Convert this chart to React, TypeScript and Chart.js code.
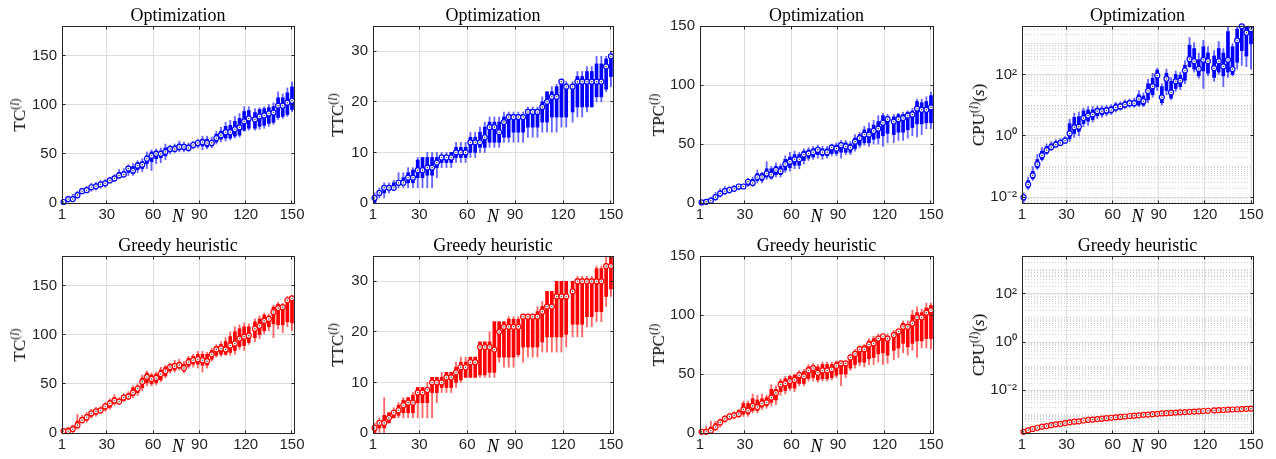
import React, { useEffect, useRef } from "react";
import { Chart, registerables } from "chart.js";

Chart.register(...registerables);

// ---------------- data ----------------
const N_POS = [2, 5, 8, 11, 14, 17, 20, 23, 26, 29, 32, 35, 38, 41, 44, 47, 50, 53, 56, 59, 62, 65, 68, 71, 74, 77, 80, 83, 86, 89, 92, 95, 98, 101, 104, 107, 110, 113, 116, 119, 122, 126, 129, 132, 135, 138, 141, 144, 147, 150];
const X_TICKS = [1, 30, 60, 90, 120, 150];
const TC_TICKS = [0, 50, 100, 150];
const TTC_TICKS = [0, 10, 20, 30];
const TPC_TICKS = [0, 50, 100, 150];
const CPU_TICKS = [0.01, 1, 100];
const CPU_TICK_LABELS = ["10⁻²", "10⁰", "10²"];

// Optimization: TC
const TC_OPT_MED = [1, 4, 4, 8, 12, 13, 16, 17, 19, 20, 23, 25, 28, 29, 35, 33, 38, 39, 45, 48, 50, 50, 52, 55, 55, 57, 57, 56, 59, 61, 62, 61, 61, 66, 69, 72, 72, 75, 77, 83, 86, 85, 88, 89, 91, 92, 99, 99, 102, 104];
const TC_OPT_Q1 = [0, 2, 3, 6, 11, 12, 14, 15, 17, 18, 22, 23, 26, 27, 31, 30, 34, 35, 40, 42, 45, 46, 48, 52, 53, 54, 54, 54, 57, 58, 58, 57, 58, 62, 65, 66, 66, 68, 69, 74, 76, 76, 78, 79, 81, 82, 87, 88, 90, 95];
const TC_OPT_Q3 = [2, 5, 6, 10, 13, 15, 18, 19, 21, 22, 24, 27, 31, 32, 37, 37, 41, 42, 48, 52, 53, 53, 56, 57, 58, 60, 59, 59, 61, 63, 65, 65, 64, 70, 73, 78, 79, 83, 86, 93, 94, 92, 95, 96, 97, 98, 107, 107, 112, 118];
const TC_OPT_LO = [0, 1, 2, 5, 10, 11, 12, 13, 15, 16, 21, 22, 25, 26, 28, 28, 31, 32, 35, 33, 40, 41, 44, 50, 51, 52, 52, 52, 55, 56, 54, 55, 56, 60, 62, 63, 64, 66, 67, 73, 74, 74, 75, 76, 78, 80, 85, 86, 88, 93];
const TC_OPT_HI = [3, 7, 9, 12, 15, 17, 20, 21, 23, 24, 26, 29, 34, 35, 39, 40, 43, 45, 52, 54, 55, 56, 60, 59, 60, 63, 62, 61, 63, 65, 68, 68, 67, 73, 77, 82, 84, 88, 91, 98, 98, 96, 97, 98, 100, 102, 113, 111, 117, 123];

// Optimization: TTC
const TTC_OPT_MED = [1, 2, 3, 3, 3, 4, 4, 5, 5, 6.5, 6.5, 7, 7, 8, 9, 9, 9, 10, 10, 10, 12, 12, 12, 13, 15, 15, 14, 16, 17, 17, 17, 17, 18, 18, 18, 19, 20, 21, 21, 24, 23, 23, 24, 24, 24, 24, 24, 24, 27, 29];
const TTC_OPT_Q1 = [0, 1.5, 2, 3, 3, 3.5, 4, 4, 4, 5, 5, 5.5, 5.5, 7, 8, 8, 8, 9, 9, 9, 10, 10, 11, 11, 12, 12, 12, 13, 13, 14, 14, 14, 15, 15, 15, 16, 16, 17, 17, 17, 17, 18, 19, 19, 19, 19, 21, 21, 22.5, 25];
const TTC_OPT_Q3 = [1, 2.5, 3.5, 3.5, 4, 4.5, 5, 6, 6.5, 8.5, 9, 9, 9, 9, 9.5, 9.5, 10, 11, 11, 11, 13, 13, 14, 15, 16, 16, 16, 17, 17.5, 17.5, 17.5, 17.5, 18.5, 18.5, 18.5, 20, 22, 22, 23, 24, 23.5, 23.5, 25, 25, 26, 26, 27.5, 27.5, 28.5, 29];
const TTC_OPT_LO = [0, 1, 1, 2, 3, 3, 3, 3, 3, 3, 3, 3, 3, 5, 7, 7, 7, 8, 8, 8, 9, 9, 10, 10, 11, 11, 11, 12, 12, 12, 12, 12, 13, 13, 13, 14, 14, 14, 14, 15, 15, 16, 17, 17, 18, 19, 20, 20, 22, 23];
const TTC_OPT_HI = [2, 3, 4, 4, 4.5, 6, 6, 7, 7, 9, 9, 10, 10, 10, 10, 10, 10, 12, 12, 12, 14, 14, 15, 16, 17, 17, 17, 18, 18, 18, 18, 18, 19, 19, 19, 21, 22, 23, 23.5, 24.5, 24, 24, 26, 26, 27, 27, 29, 29, 29, 30];

// Optimization: TPC
const TPC_OPT_MED = [0.5, 1, 2, 5, 8, 10, 11, 12, 14, 14, 18, 17, 22, 22, 25, 24, 28, 27, 33, 35, 37, 37, 41, 42, 43, 45, 43, 43, 47, 46, 49, 48, 47, 52, 55, 58, 58, 61, 63, 68, 71, 69, 71, 72, 74, 75, 80, 79, 79, 81];
const TPC_OPT_Q1 = [0, 0.5, 1, 3, 6, 8, 10, 11, 12, 13, 15, 15, 19, 19, 22, 21, 24, 24, 28, 30, 32, 32, 36, 38, 39, 41, 40, 40, 42, 42, 43, 43, 43, 46, 49, 51, 51, 54, 55, 57, 59, 58, 60, 60, 62, 64, 67, 67, 68, 68];
const TPC_OPT_Q3 = [1, 2, 3, 7, 10, 12, 13, 14, 15, 15, 20, 20, 25, 25, 29, 29, 31, 31, 37, 39, 41, 41, 44, 45, 46, 47, 46, 46, 49, 49, 51, 51, 50, 55, 58, 62, 63, 66, 69, 74, 73, 73, 75, 75, 77, 78, 86, 85, 86, 91];
const TPC_OPT_LO = [0, 0, 0, 2, 5, 7, 8, 10, 11, 12, 14, 14, 17, 17, 20, 20, 22, 22, 26, 27, 29, 29, 33, 36, 37, 38, 37, 38, 40, 40, 38, 41, 41, 44, 47, 49, 48, 50, 50, 48, 51, 51, 53, 53, 55, 57, 56, 58, 63, 63];
const TPC_OPT_HI = [1.5, 3, 5, 9, 12, 14, 14, 15, 16, 16, 21, 22, 28, 26, 35, 31, 34, 33, 40, 43, 44, 43, 46, 47, 48, 49, 48, 48, 50, 51, 53, 53, 52, 58, 60, 65, 68, 70, 74, 76, 75, 75, 76, 77, 78, 80, 88, 88, 90, 94];

// Optimization: CPU (s)
const CPU_OPT_MED = [0.01, 0.026, 0.052, 0.12, 0.23, 0.34, 0.43, 0.52, 0.59, 0.7, 1.2, 1.9, 2.0, 3.8, 4.6, 5.0, 6.4, 6.4, 6.7, 7.0, 8.4, 9.1, 10.5, 11.6, 11.6, 16, 13.5, 29, 41, 93, 18, 72, 26, 60, 63, 135, 316, 270, 152, 300, 270, 160, 270, 183, 300, 150, 1290, 3700, 2290, 3000];
const CPU_OPT_Q1 = [0.008, 0.02, 0.04, 0.09, 0.17, 0.27, 0.36, 0.45, 0.52, 0.62, 0.8, 1.2, 1.4, 2.5, 3.0, 3.4, 4.5, 4.8, 5.2, 5.6, 6.8, 7.5, 8.5, 9.5, 9.5, 10, 10, 15, 22, 40, 12, 30, 17, 35, 40, 65, 180, 150, 90, 130, 110, 80, 120, 90, 120, 100, 250, 600, 400, 1000];
const CPU_OPT_Q3 = [0.012, 0.035, 0.07, 0.17, 0.32, 0.45, 0.55, 0.65, 0.72, 0.85, 2.5, 4.0, 4.2, 6.5, 7.0, 7.0, 8.0, 8.0, 8.5, 9.0, 11, 11, 13, 14, 14, 22, 20, 50, 75, 140, 40, 110, 60, 100, 95, 200, 900, 700, 300, 800, 500, 400, 700, 500, 2500, 800, 3000, 3700, 3500, 3700];
const CPU_OPT_LO = [0.006, 0.018, 0.035, 0.08, 0.15, 0.24, 0.33, 0.42, 0.5, 0.58, 0.65, 0.9, 1.0, 2.0, 2.2, 2.8, 3.6, 4.0, 4.5, 5.0, 6.0, 6.8, 7.8, 8.5, 8.5, 9, 9, 12, 18, 30, 10, 22, 15, 28, 32, 50, 170, 120, 75, 35, 90, 60, 100, 40, 80, 90, 150, 200, 180, 150];
const CPU_OPT_HI = [0.014, 0.045, 0.1, 0.25, 0.42, 0.55, 0.65, 0.75, 0.82, 0.95, 3.5, 5.5, 6.0, 8.0, 9.0, 9.0, 9.5, 9.5, 10, 10.5, 12.5, 13, 15, 16, 17, 30, 25, 70, 110, 160, 50, 150, 80, 130, 120, 280, 1600, 1100, 500, 1300, 800, 600, 1200, 700, 3700, 1000, 3700, 3700, 3700, 3700];

// Greedy heuristic: TC
const TC_GRD_MED = [2, 2, 4, 8, 13, 16, 20, 22, 23, 27, 30, 33, 32, 36, 37, 41, 45, 52, 57, 55, 56, 60, 63, 67, 68, 69, 66, 72, 74, 75, 74, 73, 80, 85, 86, 85, 89, 91, 96, 98, 99, 106, 109, 114, 116, 123, 127, 128, 135, 137];
const TC_GRD_Q1 = [0, 0, 2, 6, 11, 13, 17, 19, 21, 24, 26, 30, 30, 33, 35, 38, 41, 46, 51, 50, 51, 54, 58, 63, 64, 66, 63, 68, 70, 70, 69, 69, 75, 79, 80, 80, 82, 84, 88, 89, 92, 97, 100, 104, 108, 111, 110, 110, 113, 112];
const TC_GRD_Q3 = [3, 5, 7, 12, 16, 19, 22, 24, 25, 29, 33, 36, 34, 38, 40, 46, 48, 56, 61, 59, 60, 64, 67, 70, 71, 72, 70, 76, 78, 80, 80, 80, 84, 88, 90, 93, 98, 103, 106, 108, 108, 113, 116, 120, 119, 128, 131, 130, 137, 138];
const TC_GRD_LO = [0, 0, 0, 4, 10, 11, 15, 17, 20, 22, 24, 28, 29, 32, 34, 36, 38, 43, 48, 48, 49, 52, 56, 61, 62, 64, 61, 66, 67, 66, 62, 66, 73, 77, 78, 79, 79, 80, 85, 84, 90, 93, 96, 101, 104, 97, 106, 102, 108, 104];
const TC_GRD_HI = [4, 6, 8, 19, 18, 21, 24, 26, 27, 31, 35, 39, 36, 40, 42, 48, 50, 59, 63, 61, 62, 67, 69, 71, 74, 75, 73, 78, 80, 83, 83, 82, 86, 90, 93, 97, 103, 108, 110, 112, 111, 116, 119, 122, 121, 130, 133, 132, 139, 140];

// Greedy heuristic: TTC
const TTC_GRD_MED = [1, 2, 2, 3, 4, 4.5, 5.5, 6, 6, 8, 8, 8.5, 10, 10, 10, 11, 11, 12, 13, 13, 14, 14, 17, 17, 17, 16.5, 20, 21, 21, 21, 21, 23, 23, 23, 23, 24, 25, 25, 27, 27, 27, 28, 30, 30, 30, 30, 30, 30, 33, 33];
const TTC_GRD_Q1 = [0, 1, 1, 2, 3, 3.5, 4, 4, 4, 6, 6, 6, 8, 8, 9, 9, 9, 10, 10.5, 11, 11, 11, 11.5, 11.5, 12, 12, 15, 15, 15, 15, 15.5, 17, 17, 17, 17, 18, 19, 19, 19, 19, 19.5, 21.5, 21.5, 21.5, 23, 23, 24, 24, 27, 28.5];
const TTC_GRD_Q3 = [1.5, 2.5, 3.5, 4, 4.5, 5.5, 6.5, 7, 7.5, 9, 9, 9, 11, 11, 11, 12, 12, 13, 14, 14, 15, 15, 18, 18, 18, 22, 22, 22, 22.5, 22.5, 22.5, 23, 23, 23, 24, 25, 28, 28, 30, 30, 30, 30, 30.5, 30.5, 30.5, 30.5, 32.5, 32.5, 33, 35];
const TTC_GRD_LO = [0, 0, 0, 2, 3, 3, 3, 3, 3, 3, 3, 3, 3, 6, 8, 8, 8, 9, 10, 11, 11, 11, 11, 11, 11, 11, 14, 13, 13, 13, 15, 14, 15, 15, 15, 16, 16, 16, 16, 16, 17, 19, 19, 19, 21, 21, 22, 22, 25, 27];
const TTC_GRD_HI = [2, 3, 7, 4, 5, 6, 7, 7, 8, 9, 9, 10, 11, 11, 12, 12, 12, 14, 15, 15, 15, 15, 18, 18, 20, 22, 22, 22, 23, 23, 23, 23.5, 23.5, 23.5, 25, 26, 28, 28, 30, 30, 30, 30, 31, 31, 31, 31, 33, 33, 35, 35];

// Greedy heuristic: TPC
const TPC_GRD_MED = [1, 1, 2, 5, 9, 12, 14, 15, 16, 20, 19, 23, 22, 25, 26, 30, 34, 41, 42, 44, 45, 49, 48, 53, 55, 51, 53, 53, 54, 57, 59, 59, 64, 67, 71, 71, 75, 76, 80, 82, 80, 83, 86, 90, 90, 93, 98, 98, 102, 104];
const TPC_GRD_Q1 = [0, 0, 0, 3, 7, 10, 12, 13, 14, 16, 16, 19, 19, 22, 23, 26, 28, 35, 36, 38, 38, 42, 42, 46, 47, 45, 46, 46, 47, 49, 50, 50, 55, 58, 60, 60, 63, 64, 67, 68, 66, 70, 72, 76, 73, 76, 78, 78, 80, 80];
const TPC_GRD_Q3 = [2, 3, 5, 8, 11, 14, 16, 17, 19, 25, 25, 29, 28, 29, 30, 37, 37, 44, 46, 48, 49, 51, 52, 56, 57, 56, 58, 58, 58, 60, 60, 60, 66, 69, 73, 74, 78, 80, 82, 83, 82, 85, 87, 93, 92, 100, 102, 102, 106, 108];
const TPC_GRD_LO = [0, 0, 0, 2, 5, 9, 11, 12, 13, 14, 14, 17, 17, 20, 21, 23, 24, 32, 33, 36, 35, 40, 40, 44, 44, 43, 44, 44, 45, 47, 40, 47, 53, 55, 57, 56, 58, 58, 60, 58, 59, 62, 64, 68, 66, 70, 64, 72, 72, 71];
const TPC_GRD_HI = [3, 6, 10, 10, 12, 15, 17, 18, 20, 27, 27, 33, 32, 33, 32, 41, 40, 46, 48, 49, 50, 53, 54, 58, 59, 58, 60, 60, 60, 61, 61, 61, 67, 71, 74, 75, 80, 82, 84, 84, 84, 87, 89, 95, 95, 104, 107, 105, 110, 110];

// Greedy heuristic: CPU (s) (spread too small to be visible)
const CPU_GRD_MED = [1.9e-4, 2.2e-4, 2.5e-4, 2.8e-4, 3.1e-4, 3.3e-4, 3.6e-4, 3.9e-4, 4.1e-4, 4.4e-4, 4.7e-4, 5.0e-4, 5.2e-4, 5.6e-4, 5.9e-4, 6.1e-4, 6.4e-4, 6.7e-4, 7.0e-4, 7.3e-4, 7.6e-4, 7.9e-4, 8.2e-4, 8.6e-4, 8.9e-4, 9.2e-4, 9.6e-4, 9.9e-4, 1.03e-3, 1.06e-3, 1.1e-3, 1.13e-3, 1.16e-3, 1.19e-3, 1.22e-3, 1.25e-3, 1.28e-3, 1.31e-3, 1.35e-3, 1.39e-3, 1.42e-3, 1.46e-3, 1.5e-3, 1.53e-3, 1.57e-3, 1.6e-3, 1.64e-3, 1.67e-3, 1.71e-3, 1.74e-3];

// ---------------- layout / style ----------------
const SANS = "'Liberation Sans', Arial, sans-serif";
const SERIF = "'Liberation Serif', 'Times New Roman', serif";
const TICK_COLOR = "#262626";
const GRID_MAJOR = "#dedede";
const GRID_MINOR = "#d2d2d2";
const BLUE = "#0000ff";
const BLUE_W = "rgba(0,0,255,0.6)";
const RED = "#ff0000";
const RED_W = "rgba(255,0,0,0.6)";

const COL_LEFT = [62, 373, 700, 1022];
const COL_RIGHT = [294, 613, 933, 1253];
const CANVAS_LEFT = [11, 329, 650, 970];
const YLABEL_X = [20, 338, 659, 979];
const ROW_TOP = [26, 256];
const ROW_BOTTOM = [203, 433];
const TITLE_Y = [14.5, 244.5];
const TITLE_H = 26;
const XAXIS_H = 25;
const RIGHT_PAD = 16;

type PanelDef = {
  col: number;
  row: number;
  title: string;
  ylabel: string;
  unit?: string;
  log: boolean;
  yMin: number;
  yMax: number;
  yTicks: number[];
  color: string;
  whisker: string;
  med: number[];
  q1?: number[];
  q3?: number[];
  lo?: number[];
  hi?: number[];
};

const PANELS: PanelDef[] = [
  { col: 0, row: 0, title: "Optimization", ylabel: "TC", log: false, yMin: 0, yMax: 180, yTicks: TC_TICKS, color: BLUE, whisker: BLUE_W, med: TC_OPT_MED, q1: TC_OPT_Q1, q3: TC_OPT_Q3, lo: TC_OPT_LO, hi: TC_OPT_HI },
  { col: 1, row: 0, title: "Optimization", ylabel: "TTC", log: false, yMin: 0, yMax: 35, yTicks: TTC_TICKS, color: BLUE, whisker: BLUE_W, med: TTC_OPT_MED, q1: TTC_OPT_Q1, q3: TTC_OPT_Q3, lo: TTC_OPT_LO, hi: TTC_OPT_HI },
  { col: 2, row: 0, title: "Optimization", ylabel: "TPC", log: false, yMin: 0, yMax: 150, yTicks: TPC_TICKS, color: BLUE, whisker: BLUE_W, med: TPC_OPT_MED, q1: TPC_OPT_Q1, q3: TPC_OPT_Q3, lo: TPC_OPT_LO, hi: TPC_OPT_HI },
  { col: 3, row: 0, title: "Optimization", ylabel: "CPU", unit: "s", log: true, yMin: 0.0065, yMax: 3800, yTicks: CPU_TICKS, color: BLUE, whisker: BLUE_W, med: CPU_OPT_MED, q1: CPU_OPT_Q1, q3: CPU_OPT_Q3, lo: CPU_OPT_LO, hi: CPU_OPT_HI },
  { col: 0, row: 1, title: "Greedy heuristic", ylabel: "TC", log: false, yMin: 0, yMax: 180, yTicks: TC_TICKS, color: RED, whisker: RED_W, med: TC_GRD_MED, q1: TC_GRD_Q1, q3: TC_GRD_Q3, lo: TC_GRD_LO, hi: TC_GRD_HI },
  { col: 1, row: 1, title: "Greedy heuristic", ylabel: "TTC", log: false, yMin: 0, yMax: 35, yTicks: TTC_TICKS, color: RED, whisker: RED_W, med: TTC_GRD_MED, q1: TTC_GRD_Q1, q3: TTC_GRD_Q3, lo: TTC_GRD_LO, hi: TTC_GRD_HI },
  { col: 2, row: 1, title: "Greedy heuristic", ylabel: "TPC", log: false, yMin: 0, yMax: 150, yTicks: TPC_TICKS, color: RED, whisker: RED_W, med: TPC_GRD_MED, q1: TPC_GRD_Q1, q3: TPC_GRD_Q3, lo: TPC_GRD_LO, hi: TPC_GRD_HI },
  { col: 3, row: 1, title: "Greedy heuristic", ylabel: "CPU", unit: "s", log: true, yMin: 1.7e-4, yMax: 3700, yTicks: CPU_TICKS, color: RED, whisker: RED_W, med: CPU_GRD_MED },
];

function minorLogTicks(min: number, max: number, majors: number[]) {
  const out: number[] = [];
  for (let e = Math.floor(Math.log10(min)); e <= Math.ceil(Math.log10(max)); e++) {
    for (let m = 1; m <= 9; m++) {
      const v = m * Math.pow(10, e);
      if (v < min || v > max) continue;
      if (majors.some((t) => Math.abs(Math.log10(t) - Math.log10(v)) < 1e-9)) continue;
      out.push(v);
    }
  }
  return out;
}

const framePlugin = {
  id: "frame",
  afterDraw(chart: any) {
    const { ctx, chartArea } = chart;
    const l = Math.round(chartArea.left - 0.5) + 0.5;
    const r = Math.round(chartArea.right - 0.5) + 0.5;
    const t = Math.round(chartArea.top - 0.5) + 0.5;
    const b = Math.round(chartArea.bottom - 0.5) + 0.5;
    ctx.save();
    ctx.strokeStyle = TICK_COLOR;
    ctx.lineWidth = 1;
    ctx.strokeRect(l, t, r - l, b - t);
    const tl = 3;
    const xs = chart.scales.x;
    const ys = chart.scales.y;
    ctx.beginPath();
    xs.ticks.forEach((tk: any) => {
      const px = Math.round(xs.getPixelForValue(tk.value) - 0.5) + 0.5;
      ctx.moveTo(px, b);
      ctx.lineTo(px, b - tl);
      ctx.moveTo(px, t);
      ctx.lineTo(px, t + tl);
    });
    ys.ticks.forEach((tk: any) => {
      const py = Math.round(ys.getPixelForValue(tk.value) - 0.5) + 0.5;
      ctx.moveTo(l, py);
      ctx.lineTo(l + tl, py);
      ctx.moveTo(r, py);
      ctx.lineTo(r - tl, py);
    });
    ctx.stroke();
    ctx.restore();
  },
};

function Panel({ p }: { p: PanelDef }) {
  const ref = useRef<HTMLCanvasElement>(null);
  const left = CANVAS_LEFT[p.col];
  const top = ROW_TOP[p.row] - TITLE_H;
  const width = COL_RIGHT[p.col] + RIGHT_PAD - left;
  const height = ROW_BOTTOM[p.row] + XAXIS_H - top;
  const yW = COL_LEFT[p.col] - left;

  useEffect(() => {
    if (!ref.current) return;
    const datasets: any[] = [];
    if (p.lo && p.hi) {
      datasets.push({
        type: "bar",
        data: N_POS.map((x, i) => ({ x, y: [p.lo![i], p.hi![i]] })),
        backgroundColor: p.whisker,
        borderWidth: 0,
        barThickness: 1.2,
        grouped: false,
        order: 3,
      });
    }
    if (p.q1 && p.q3) {
      datasets.push({
        type: "bar",
        data: N_POS.map((x, i) => ({ x, y: [p.q1![i], p.q3![i]] })),
        backgroundColor: p.color,
        borderWidth: 0,
        barThickness: 3,
        grouped: false,
        order: 2,
      });
    }
    datasets.push({
      type: "scatter",
      data: N_POS.map((x, i) => ({ x, y: p.med[i] })),
      pointRadius: 2.5,
      pointBorderWidth: 1.2,
      pointBorderColor: p.color,
      pointBackgroundColor: "#ffffff",
      borderColor: p.color,
      backgroundColor: "#ffffff",
      order: 1,
      clip: false,
    });
    datasets.push({
      type: "scatter",
      data: N_POS.map((x, i) => ({ x, y: p.med[i] })),
      pointRadius: 0.8,
      pointBorderWidth: 0,
      pointBackgroundColor: "#555555",
      backgroundColor: "#555555",
      order: 0,
      clip: false,
    });

    const scales: any = {
      x: {
        type: "linear",
        position: "bottom",
        min: 1,
        max: 151.3,
        offset: false,
        afterBuildTicks: (s: any) => {
          s.ticks = X_TICKS.map((v) => ({ value: v }));
        },
        afterFit: (s: any) => {
          s.height = XAXIS_H;
        },
        ticks: {
          autoSkip: false,
          maxRotation: 0,
          minRotation: 0,
          padding: 3,
          color: TICK_COLOR,
          font: { family: SANS, size: 15 },
          callback: (v: any) => String(v),
        },
        grid: { color: GRID_MAJOR, drawTicks: false, offset: false, lineWidth: 1 },
        border: { display: false },
        title: {
          display: true,
          text: "N",
          color: "#000000",
          font: { family: SERIF, size: 18, style: "italic" },
          padding: { top: 0, bottom: 0 },
        },
      },
      y: {
        type: p.log ? "logarithmic" : "linear",
        position: "left",
        min: p.yMin,
        max: p.yMax,
        afterBuildTicks: (s: any) => {
          s.ticks = p.yTicks.map((v) => ({ value: v }));
        },
        afterFit: (s: any) => {
          s.width = yW;
        },
        ticks: {
          padding: 5,
          color: TICK_COLOR,
          font: { family: SANS, size: 15 },
          callback: (v: any) => {
            if (!p.log) return String(v);
            const i = CPU_TICKS.findIndex((t) => Math.abs(Math.log10(t) - Math.log10(v)) < 1e-6);
            return i >= 0 ? CPU_TICK_LABELS[i] : "";
          },
        },
        grid: { color: GRID_MAJOR, drawTicks: false, lineWidth: 1 },
        border: { display: false },
        title: { display: false },
      },
    };
    if (p.log) {
      const minors = minorLogTicks(p.yMin, p.yMax, p.yTicks);
      scales.yMinor = {
        type: "logarithmic",
        position: "left",
        min: p.yMin,
        max: p.yMax,
        afterBuildTicks: (s: any) => {
          s.ticks = minors.map((v) => ({ value: v }));
        },
        afterFit: (s: any) => {
          s.width = 0;
        },
        ticks: { display: false },
        grid: { color: GRID_MINOR, drawTicks: false, lineWidth: 1 },
        border: { display: false, dash: [1, 2] },
      };
    }

    const chart = new Chart(ref.current, {
      type: "bar",
      data: { datasets },
      options: {
        animation: false,
        responsive: false,
        maintainAspectRatio: false,
        devicePixelRatio: 1,
        events: [],
        layout: { padding: { left: 0, right: RIGHT_PAD, top: TITLE_H, bottom: 0 } },
        plugins: {
          legend: { display: false },
          tooltip: { enabled: false },
          title: { display: false },
        },
        scales,
      } as any,
      plugins: [framePlugin],
    } as any);
    return () => chart.destroy();
  }, []);

  const axisMidY = (ROW_TOP[p.row] + ROW_BOTTOM[p.row]) / 2;
  const axisMidX = (COL_LEFT[p.col] + COL_RIGHT[p.col]) / 2;

  return (
    <>
      <canvas
        ref={ref}
        width={width}
        height={height}
        style={{ position: "absolute", left, top, width, height }}
      />
      <div
        style={{
          position: "absolute",
          left: axisMidX,
          top: TITLE_Y[p.row],
          transform: "translate(-50%, -50%)",
          fontFamily: SERIF,
          fontSize: 18,
          color: "#000",
          whiteSpace: "nowrap",
          lineHeight: "20px",
        }}
      >
        {p.title}
      </div>
      <div
        style={{
          position: "absolute",
          left: YLABEL_X[p.col],
          top: axisMidY,
          transform: "translate(-50%, -50%) rotate(-90deg)",
          fontFamily: SERIF,
          fontSize: 17,
          color: "#000",
          whiteSpace: "nowrap",
          lineHeight: "20px",
        }}
      >
        {p.ylabel}
        <sup style={{ fontSize: 12, verticalAlign: "6px", lineHeight: 0 }}>
          (<i>l</i>)
        </sup>
        {p.unit ? (
          <>
            (<i>{p.unit}</i>)
          </>
        ) : null}
      </div>
    </>
  );
}

export default function App() {
  return (
    <div
      style={{
        position: "fixed",
        left: 0,
        top: 0,
        width: 1276,
        height: 459,
        background: "#ffffff",
        overflow: "hidden",
      }}
    >
      {PANELS.map((p, i) => (
        <Panel key={i} p={p} />
      ))}
    </div>
  );
}
